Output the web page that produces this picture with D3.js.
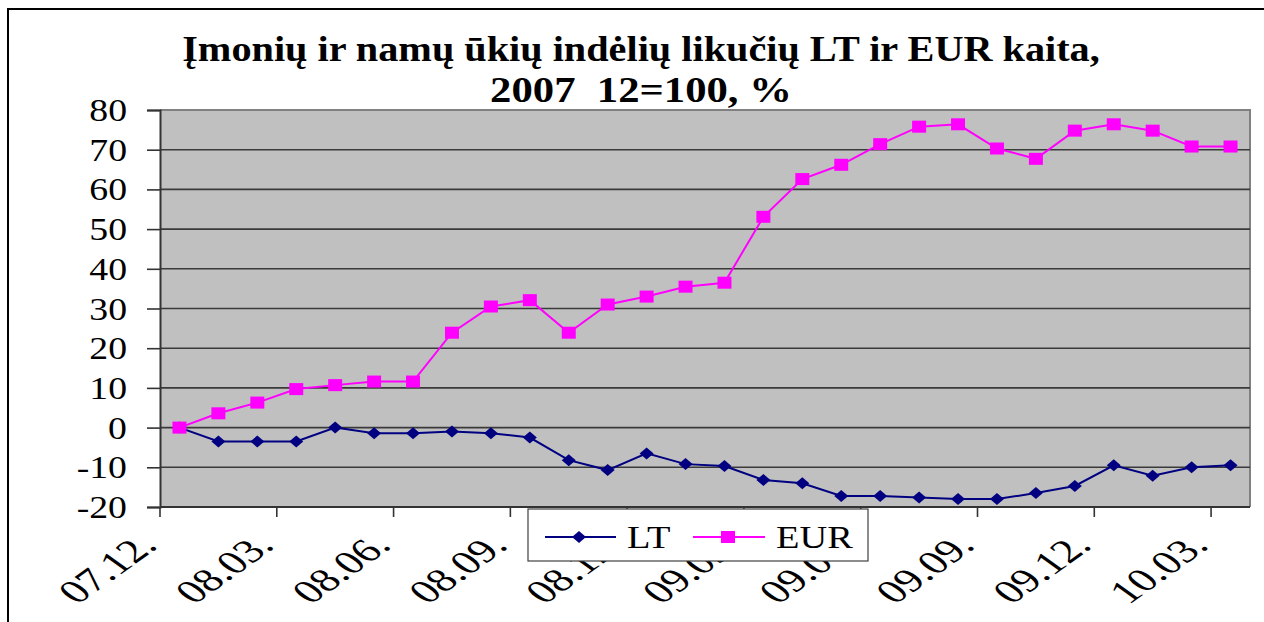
<!DOCTYPE html>
<html>
<head>
<meta charset="utf-8">
<script src="https://cdn.jsdelivr.net/npm/d3@7"></script>
<style>
  body { margin: 0; background: #fff; }
  svg { display: block; }
  text { font-family: "Liberation Serif", "Times New Roman", serif; fill: #000; white-space: pre; }
</style>
</head>
<body>
<svg id="chart" width="1264" height="622"></svg>
<script>
// months, 2007 12 .. 2010 03
var months = ['07.12.', '08.01.', '08.02.', '08.03.', '08.04.', '08.05.', '08.06.',
              '08.07.', '08.08.', '08.09.', '08.10.', '08.11.', '08.12.', '09.01.',
              '09.02.', '09.03.', '09.04.', '09.05.', '09.06.', '09.07.', '09.08.',
              '09.09.', '09.10.', '09.11.', '09.12.', '10.01.', '10.02.', '10.03.'];
var ltValues = [0, -3.5, -3.5, -3.5, 0, -1.4, -1.4, -1.0, -1.4, -2.5, -8.2, -10.7, -6.5, -9.2,
                -9.7, -13.2, -14.0, -17.2, -17.2, -17.6, -18.0, -18.0, -16.5, -14.7, -9.5, -12.1, -10.0, -9.5];
var eurValues = [0, 3.6, 6.3, 9.7, 10.7, 11.6, 11.6, 23.9, 30.5, 32.1, 23.9, 31.0, 33.0, 35.5,
                 36.5, 53.1, 62.6, 66.2, 71.4, 75.8, 76.4, 70.3, 67.7, 74.8, 76.4, 74.8, 70.8, 70.8];
var yTicks = [80, 70, 60, 50, 40, 30, 20, 10, 0, -10, -20];
var titleLines = ['Įmonių ir namų ūkių indėlių likučių LT ir EUR kaita,', '2007  12=100, %'];

(function(){
var svg = d3.select('#chart');
var pLeft = 160, pRight = 1250, pTop = 110, pBottom = 507;

var x = d3.scaleBand().domain(months).range([pLeft, pRight]).padding(0);
var y = d3.scaleLinear().domain([-20, 80]).range([pBottom, pTop]);
var cx = function(d, i){ return x(months[i]) + x.bandwidth() / 2; };

// outer frame
svg.append('rect')
    .attr('x', 8).attr('y', 9)
    .attr('width', 1270).attr('height', 640)
    .style('fill', 'none').style('stroke', '#000').style('stroke-width', 2);

// title
svg.selectAll('text.title')
    .data(titleLines)
    .enter()
    .append('text')
    .attr('class', 'title')
    .attr('transform', function(d, i){
        return 'translate(641,' + (i === 0 ? 61 : 102) + ') scale(' + (i === 0 ? 1.15 : 1.22) + ',1)';
    })
    .attr('text-anchor', 'middle')
    .style('font-size', '35px')
    .style('font-weight', 'bold')
    .text(function(d){ return d; });

// plot area
svg.append('rect')
    .attr('x', pLeft).attr('y', pTop)
    .attr('width', pRight - pLeft).attr('height', pBottom - pTop)
    .style('fill', '#c0c0c0');

svg.append('path')
    .attr('d', 'M' + pLeft + ',' + pTop + 'H' + pRight + 'V' + pBottom)
    .style('fill', 'none').style('stroke', '#808080').style('stroke-width', 2);

// grid
svg.selectAll('line.grid')
    .data(yTicks.filter(function(v){ return v !== 80 && v !== -20; }))
    .enter()
    .append('line')
    .attr('class', 'grid')
    .attr('x1', pLeft).attr('x2', pRight)
    .attr('y1', function(d){ return y(d); })
    .attr('y2', function(d){ return y(d); })
    .style('stroke', '#3a3a3a').style('stroke-width', 1.6);

// y axis
var yAxis = svg.append('g')
    .attr('transform', 'translate(' + pLeft + ',0)')
    .call(d3.axisLeft(y).tickValues(yTicks).tickSize(13).tickFormat(''));
yAxis.select('.domain').style('stroke', '#333').style('stroke-width', 2);
yAxis.selectAll('.tick line').style('stroke', '#333').style('stroke-width', 1.6);

svg.selectAll('text.ylab')
    .data(yTicks)
    .enter()
    .append('text')
    .attr('class', 'ylab')
    .attr('transform', function(d){ return 'translate(127,' + (y(d) + 11) + ') scale(1.18,1)'; })
    .attr('text-anchor', 'end')
    .style('font-size', '32px')
    .text(function(d){ return d; });

// x axis
svg.append('line')
    .attr('x1', pLeft).attr('x2', pRight)
    .attr('y1', pBottom).attr('y2', pBottom)
    .style('stroke', '#333').style('stroke-width', 2);

var shown = months.filter(function(d, i){ return i % 3 === 0; });

svg.selectAll('line.xtick')
    .data(shown)
    .enter()
    .append('line')
    .attr('class', 'xtick')
    .attr('x1', function(d){ return x(d); })
    .attr('x2', function(d){ return x(d); })
    .attr('y1', pBottom).attr('y2', pBottom + 10)
    .style('stroke', '#333').style('stroke-width', 1.6);

svg.selectAll('text.xlab')
    .data(shown)
    .enter()
    .append('text')
    .attr('class', 'xlab')
    .attr('transform', function(d){
        return 'translate(' + (x(d) - 1) + ',547) scale(1.4,1) rotate(-45)';
    })
    .attr('text-anchor', 'end')
    .style('font-size', '33px')
    .text(function(d){ return d; });

// lines
var line = d3.line()
    .x(function(d, i){ return cx(d, i); })
    .y(function(d){ return y(d); });

svg.append('path')
    .datum(ltValues)
    .attr('d', line)
    .style('fill', 'none').style('stroke', '#000080').style('stroke-width', 2);

svg.append('path')
    .datum(eurValues)
    .attr('d', line)
    .style('fill', 'none').style('stroke', '#ff00ff').style('stroke-width', 2);

var diamond = 'M0,-6L7,0L0,6L-7,0Z';

svg.selectAll('path.lt')
    .data(ltValues)
    .enter()
    .append('path')
    .attr('class', 'lt')
    .attr('d', diamond)
    .attr('transform', function(d, i){ return 'translate(' + cx(d, i) + ',' + y(d) + ')'; })
    .style('fill', '#000080');

svg.selectAll('rect.eur')
    .data(eurValues)
    .enter()
    .append('rect')
    .attr('class', 'eur')
    .attr('x', function(d, i){ return cx(d, i) - 7; })
    .attr('y', function(d){ return y(d) - 6; })
    .attr('width', 14).attr('height', 12)
    .style('fill', '#ff00ff');

// legend
var legend = svg.append('g');
legend.append('rect')
    .attr('x', 528).attr('y', 509)
    .attr('width', 340).attr('height', 52)
    .style('fill', '#fff').style('stroke', '#404040').style('stroke-width', 1.2);

legend.append('line')
    .attr('x1', 545).attr('x2', 616).attr('y1', 537).attr('y2', 537)
    .style('stroke', '#000080').style('stroke-width', 2);
legend.append('path')
    .attr('d', diamond)
    .attr('transform', 'translate(579,537)')
    .style('fill', '#000080');
legend.append('text')
    .attr('transform', 'translate(627,548) scale(1.2,1)')
    .style('font-size', '32px')
    .text('LT');

legend.append('line')
    .attr('x1', 693).attr('x2', 765).attr('y1', 537).attr('y2', 537)
    .style('stroke', '#ff00ff').style('stroke-width', 2);
legend.append('rect')
    .attr('x', 721).attr('y', 531)
    .attr('width', 14).attr('height', 12)
    .style('fill', '#ff00ff');
legend.append('text')
    .attr('transform', 'translate(776,548) scale(1.2,1)')
    .style('font-size', '32px')
    .text('EUR');
})();
</script>
</body>
</html>
